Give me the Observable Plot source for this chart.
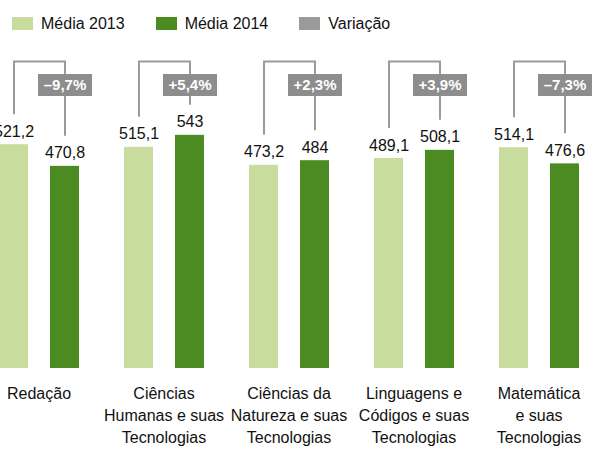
<!DOCTYPE html>
<html>
<head>
<meta charset="utf-8">
<script src="https://cdn.jsdelivr.net/npm/d3@7"></script>
<script src="https://cdn.jsdelivr.net/npm/@observablehq/plot@0.6"></script>
<style>
  body { margin: 0; background: #fff; font-family: "Liberation Sans", Arial, sans-serif; }
  #legend { height: 40px; box-sizing: border-box; padding: 17px 0 0 12px; display: flex; align-items: flex-start; font-size: 16px; color: #111; }
  #legend .item { display: flex; align-items: center; height: 13px; margin-right: 31px; }
  #legend .sw { width: 21px; height: 13px; margin-right: 8px; }
  #legend .lbl { line-height: 13px; }
  #chart svg { display: block; }
</style>
</head>
<body>
<div id="legend"></div>
<div id="chart"></div>
<script>
const categories = [
  "Redação",
  "Ciências Humanas e suas Tecnologias",
  "Ciências da Natureza e suas Tecnologias",
  "Linguagens e Códigos e suas Tecnologias",
  "Matemática e suas Tecnologias"
];
const categoryLabels = [
  "Redação",
  "Ciências\nHumanas e suas\nTecnologias",
  "Ciências da\nNatureza e suas\nTecnologias",
  "Linguagens e\nCódigos e suas\nTecnologias",
  "Matemática\ne suas\nTecnologias"
];
const series = ["Média 2013", "Média 2014"];
const media2013 = [521.2, 515.1, 473.2, 489.1, 514.1];
const media2014 = [470.8, 543, 484, 508.1, 476.6];
const variacao = [-9.7, 5.4, 2.3, 3.9, -7.3];
const legendItems = ["Média 2013", "Média 2014", "Variação"];

const colors = { "Média 2013": "#c8dc9d", "Média 2014": "#4c8b21", "Variação": "#9a9a9a" };

// legend
const legend = document.getElementById("legend");
legendItems.forEach(name => {
  const it = document.createElement("div");
  it.className = "item";
  const sw = document.createElement("div");
  sw.className = "sw";
  sw.style.background = colors[name];
  const lb = document.createElement("span");
  lb.className = "lbl";
  lb.textContent = name;
  it.appendChild(sw); it.appendChild(lb);
  legend.appendChild(it);
});

const bars = categories.flatMap((c, i) => [
  { cat: c, serie: series[0], value: media2013[i] },
  { cat: c, serie: series[1], value: media2014[i] }
]);
const badges = categories.map((c, i) => ({ cat: c, serie: series[1], v: variacao[i] }));
const labels = categories.map((c, i) => ({ cat: c, label: categoryLabels[i] }));

const YMAX = 715;
const fmtVal = v => Number.isInteger(v) ? String(v) : v.toFixed(1).replace(".", ",");
const fmtVar = v => (v < 0 ? "\u2013" : "+") + Math.abs(v).toFixed(1).replace(".", ",") + "%";

const chart = Plot.plot({
  width: 592,
  height: 409,
  marginTop: 21,
  marginBottom: 81,
  marginLeft: 0,
  marginRight: 0,
  style: { fontFamily: "'Liberation Sans', Arial, sans-serif", background: "#fff" },
  fx: { domain: categories, range: [-25.9, 602.9], padding: 0, axis: null },
  x: { domain: series, padding: 0.44, axis: null },
  y: { domain: [0, YMAX], axis: null },
  color: { domain: series, range: [colors["Média 2013"], colors["Média 2014"]] },
  marks: [
    Plot.barY(bars, { fx: "cat", x: "serie", y: "value", fill: "serie" }),
    Plot.ruleX(bars, { fx: "cat", x: "serie", y1: YMAX, y2: "value", insetBottom: 30, stroke: "#9a9a9a", strokeWidth: 2 }),
    Plot.line(bars, { fx: "cat", x: "serie", y: YMAX, z: "cat", stroke: "#9a9a9a", strokeWidth: 2, strokeLinecap: "square" }),
    Plot.ruleX(badges, { fx: "cat", x: "serie", y1: YMAX, y2: YMAX, insetTop: 13, insetBottom: -35, stroke: "#8d8d8d", strokeWidth: 54 }),
    Plot.text(badges, { fx: "cat", x: "serie", y: YMAX, dy: 24, text: d => fmtVar(d.v), fill: "white", fontWeight: "bold", fontSize: 15 }),
    Plot.text(bars, { fx: "cat", x: "serie", y: "value", dy: -13, text: d => fmtVal(d.value), fontSize: 16, fill: "#111" }),
    Plot.text(labels, { fx: "cat", text: "label", frameAnchor: "bottom", lineAnchor: "top", dy: 15, lineHeight: 1.38, fontSize: 16, fill: "#111" })
  ]
});
document.getElementById("chart").appendChild(chart);
</script>
</body>
</html>
